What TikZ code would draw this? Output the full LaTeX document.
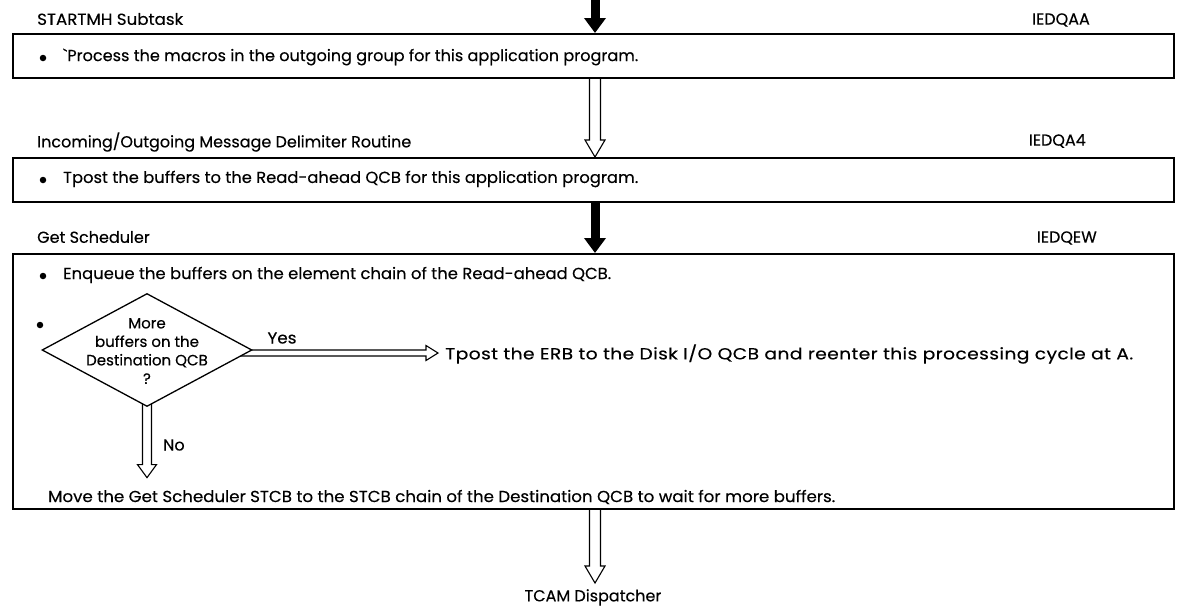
\documentclass[tikz,border=0pt]{standalone}
\usepackage{fontspec}
\usepackage{graphicx}
\setmainfont{Poppins}[FakeBold=0.3]
\usetikzlibrary{arrows.meta,calc,shapes.geometric,backgrounds}

% set a line of text to an exact width
\newcommand{\fitw}[2]{\resizebox{#1}{\height}{#2}}

\tikzset{
  box/.style={draw, line width=1.6pt, inner sep=0pt, minimum width=1161pt, anchor=north west},
  txt/.style={anchor=west, inner sep=0pt},
  bul/.style={circle, fill, inner sep=0pt, minimum size=6.5pt},
  title/.style={anchor=west, inner sep=0pt},
  modname/.style={anchor=east, inner sep=0pt},
  % solid arrow between boxes
  boldarrow/.style={line width=9pt, -{Triangle[width=21pt,length=15pt]}},
  % hollow arrow pointing down: shaft half-width, head half-width, head length
  hollowdown/.style n args={3}{draw, line width=1.1pt, fill=white, to path={
    let \p1=(\tikztostart), \p2=(\tikztotarget) in
    (\x1-#1,\y1) -- (\x1-#1,\y2+#3) -- (\x1-#2,\y2+#3) -- (\x1,\y2)
    -- (\x1+#2,\y2+#3) -- (\x1+#1,\y2+#3) -- (\x1+#1,\y1)}},
  % hollow arrow pointing right
  hollowright/.style n args={3}{draw, line width=1.1pt, fill=white, to path={
    let \p1=(\tikztostart), \p2=(\tikztotarget) in
    (\x1,\y1+#1) -- (\x2-#3,\y1+#1) -- (\x2-#3,\y1+#2) -- (\x2,\y1)
    -- (\x2-#3,\y1-#2) -- (\x2-#3,\y1-#1) -- (\x1,\y1-#1)}},
}

\begin{document}
\begin{tikzpicture}[x=1pt, y=-1pt, font=\fontsize{16}{19}\selectfont]
\useasboundingbox (0,0) rectangle (1183,605);

\coordinate (top) at (595,0);

% section headings
\node[title] (h1) at (37,19) {\fitw{146pt}{STARTMH Subtask}};
\node[modname] (m1) at (1090,20) {IEDQAA};
\node[title] (h2) at (37,142) {Incoming/Outgoing Message Delimiter Routine};
\node[modname] (m2) at (1086,141) {IEDQA4};
\node[title] (h3) at (37,237) {Get Scheduler};
\node[modname] (m3) at (1097,238) {IEDQEW};

% process boxes
\node[box, minimum height=44pt] (b1) at (12,33) {};
\node[box, minimum height=44pt] (b2) at (12,157) {};
\node[box, minimum height=255pt] (b3) at (12,253) {};

% box contents
\node[bul] (u1) at (43,58) {};
\node[txt] (t1) at (63,57) {\fitw{575pt}{\textasciigrave Process the macros in the outgoing group for this application program.}};
\node[bul] (u2) at (43,180) {};
\node[txt] (t2) at (63,179) {\fitw{575pt}{Tpost the buffers to the Read-ahead QCB for this application program.}};
\node[bul] (u3) at (43,276) {};
\node[txt] (t3) at (63,275) {\fitw{548pt}{Enqueue the buffers on the element chain of the Read-ahead QCB.}};
\node[bul] (u4) at (40,325) {};

% decision
\node[diamond, draw, line width=1.3pt, fill=white, inner sep=0pt,
      minimum width=210pt, minimum height=113pt] (dec) at (147,350) {};
\node[align=center, inner sep=0pt, font=\fontsize{15}{18.5}\selectfont] (dq) at ([yshift=-1pt]dec)
  {More\\buffers on the\\Destination QCB\\?};
\node[inner sep=0pt] (yes) at (282,338) {\fitw{29pt}{Yes}};
\node[txt] (erb) at (445,354) {\fitw{688pt}{\addfontfeature{LetterSpace=2}Tpost the ERB to the Disk I/O QCB and reenter this processing cycle at A.}};
\node[txt] (no) at (163,445) {No};
\node[txt] (mv) at (48,497) {\fitw{787pt}{Move the Get Scheduler STCB to the STCB chain of the Destination QCB to wait for more buffers.}};

\node[inner sep=0pt, anchor=north] (tcam) at (593,589) {TCAM Dispatcher};

% connectors
\draw[boldarrow] (top) -- (b1.north -| top);
\draw[boldarrow] (b2.south -| top) -- (b3.north -| top);
\begin{pgfonlayer}{background}
  \draw[hollowdown={5.5pt}{10pt}{17pt}] (b1.south -| top) to (b2.north -| top);
  \draw[hollowdown={5.5pt}{10pt}{17pt}] (b3.south -| top) to ([yshift=6pt]tcam.north -| top);
  \draw[hollowdown={4.5pt}{9.5pt}{13pt}] ([yshift=12pt]dec.south) to ([yshift=12pt]mv.north -| dec.south);
  \draw[hollowright={3pt}{7.5pt}{12pt}] ([xshift=-20pt,yshift=-3pt]dec.east) to ([xshift=-7pt]erb.west);
\end{pgfonlayer}
\end{tikzpicture}
\end{document}
